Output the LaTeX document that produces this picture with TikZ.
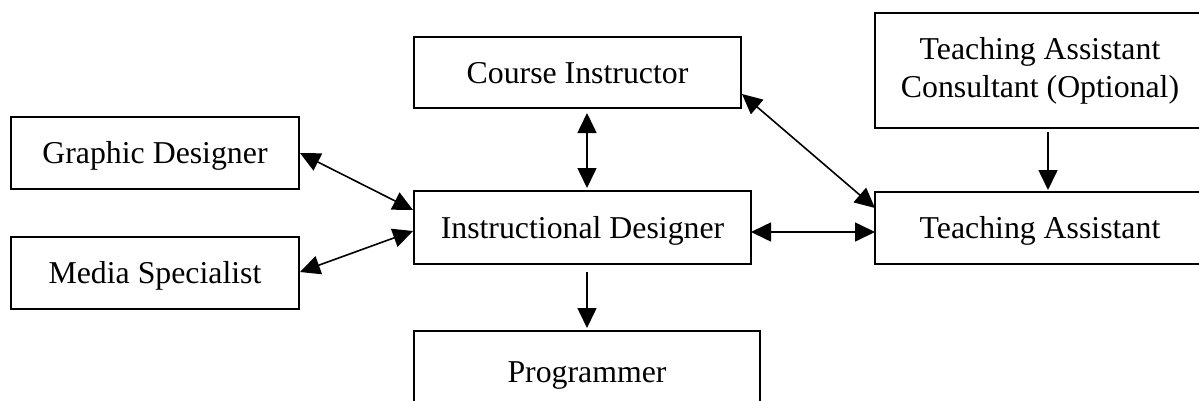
\documentclass[tikz,border=0pt]{standalone}
\usepackage{fontspec}
\setmainfont{Liberation Serif}
\usetikzlibrary{arrows.meta,calc}

\begin{document}
\begin{tikzpicture}[x=1pt,y=-1pt,
  frame/.style={draw, line width=1.6pt, inner sep=0pt, outer sep=0pt,
    anchor=north west, font=\fontsize{31.8}{38}\selectfont},
  oneline/.style={frame, text height=21pt, text depth=0pt},
  link/.style={line width=1.6pt, {Triangle[length=20pt,width=19pt]}-{Triangle[length=20pt,width=19pt]}},
  flow/.style={line width=1.6pt, -{Triangle[length=20pt,width=19pt]}}
]
\useasboundingbox (0,0) rectangle (1199,400);
\clip (0,0) rectangle (1199,400);

% boxes
\node[oneline, minimum width=327pt, minimum height=71pt] (ci) at (414,37) {Course Instructor};
\node[frame, align=center, minimum width=330pt, minimum height=115pt] (tac) at (875,13)
  {Teaching Assistant\\Consultant (Optional)};
\node[oneline, minimum width=288pt, minimum height=72pt] (gd) at (11,117) {Graphic Designer};
\node[oneline, minimum width=288pt, minimum height=72pt] (ms) at (11,237) {Media Specialist};
\node[oneline, minimum width=337pt, minimum height=73pt] (id) at (414,191) {Instructional Designer};
\node[oneline, minimum width=330pt, minimum height=72pt] (ta) at (875,192) {Teaching Assistant};
\node[oneline, minimum width=346pt, minimum height=82pt] (prog) at (414,331) {Programmer};

% connectors
\draw[link] ($(ci.south -| prog.north)+(0,5)$) -- ($(id.north -| prog.north)+(0,-3)$);
\draw[flow] ($(id.south -| prog.north)+(0,8)$) -- ($(prog.north)+(0,-3)$);
\draw[link] ($(ci.south east)+(1,-14)$) -- ($(ta.north west)+(0,16)$);
\draw[link] ($(gd.east)+(1,0)$) -- ($(id.north west)+(-1,19)$);
\draw[link] ($(ms.east)+(1,-1)$) -- ($(id.north west)+(-1,40)$);
\draw[link] ($(id.north east)+(0,41)$) -- ($(ta.north west)+(0,40)$);
\draw[flow] ($(tac.south)+(8,4)$) -- ($(ta.north)+(8,-2)$);
\end{tikzpicture}
\end{document}
